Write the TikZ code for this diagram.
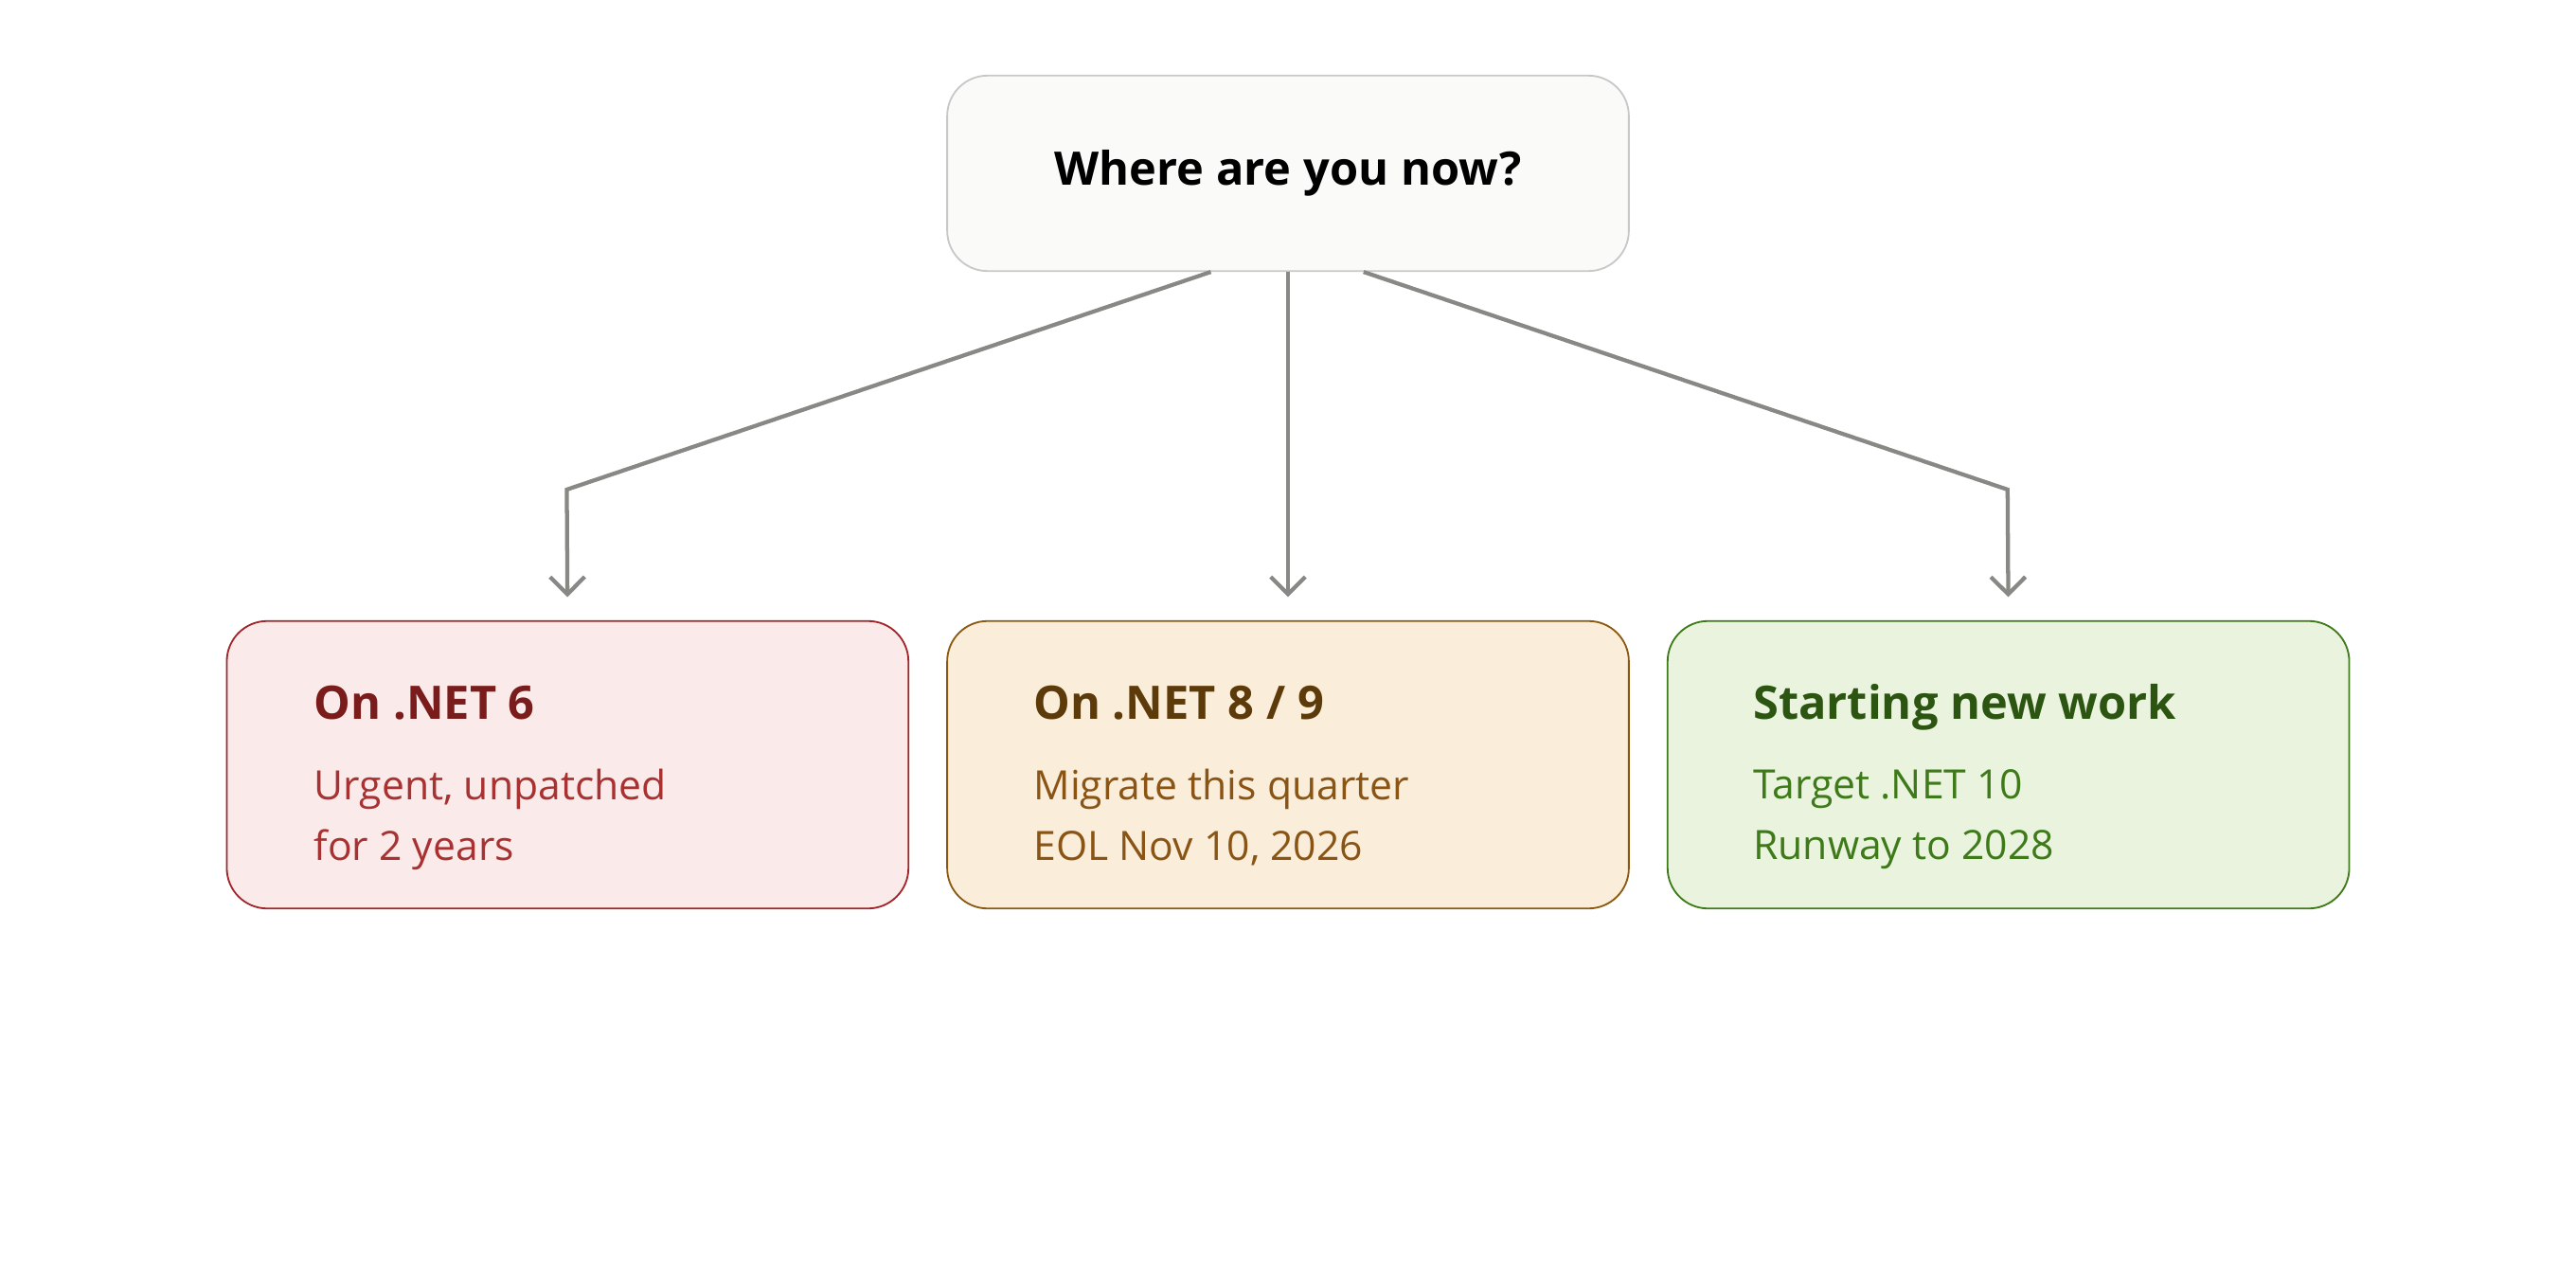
\documentclass[tikz,border=0pt]{standalone}
\usepackage{fontspec}
\setmainfont{Open Sans}
\usetikzlibrary{arrows.meta,positioning}
\definecolor{topfill}{HTML}{FAFAF8}
\definecolor{topline}{HTML}{C8C8C8}
\definecolor{redfill}{HTML}{FBEAEA}
\definecolor{redline}{HTML}{A0262B}
\definecolor{redhead}{HTML}{7A1C1C}
\definecolor{redtext}{HTML}{A83232}
\definecolor{orafill}{HTML}{FAEDDA}
\definecolor{oraline}{HTML}{8B5A12}
\definecolor{orahead}{HTML}{5C3A0A}
\definecolor{oratext}{HTML}{8A5414}
\definecolor{grnfill}{HTML}{EAF3DE}
\definecolor{grnline}{HTML}{3F7A1A}
\definecolor{grnhead}{HTML}{2C5511}
\definecolor{grntext}{HTML}{3F7A1A}
\definecolor{arrgray}{HTML}{888884}
\tikzset{
  box/.style={draw, rounded corners=14pt, line width=0.6pt, minimum width=8.3cm, minimum height=3.5cm, inner sep=0pt},
  head/.style={anchor=base west, font=\fontsize{16}{19}\selectfont\bfseries},
  body/.style={anchor=base west, align=left, font=\fontsize{14}{21}\selectfont},
  arr/.style={draw=arrgray, line width=1.4pt, -{Straight Barb[length=6pt,width=12pt]}, shorten >=8pt}
}
\begin{document}
\begin{tikzpicture}[x=0.02cm,y=-0.02cm]
  \useasboundingbox (0,0) rectangle (1568,784);
  % question
  \node[box, fill=topfill, draw=topline, minimum height=2.38cm] (top) at (784,105.5) {};
  \node[font=\fontsize{16}{19}\selectfont\bfseries] (q) at (top.center) {Where are you now?};
  % answers
  \node[box, fill=redfill, draw=redline] (red) at (345.5,465.5) {};
  \node[box, fill=orafill, draw=oraline] (ora) at (784,465.5) {};
  \node[box, fill=grnfill, draw=grnline] (grn) at (1222.5,465.5) {};
  \node[head, text=redhead] (redh) at (185,438) {On .NET 6};
  \node[body, text=redtext, anchor=north west] (redb) at (185,462) {Urgent, unpatched\\for 2 years};
  \node[head, text=orahead] (orah) at (623,438) {On .NET 8 / 9};
  \node[body, text=oratext, anchor=north west] (orab) at (623,462) {Migrate this quarter\\EOL Nov 10, 2026};
  \node[head, text=grnhead] (grnh) at (1061,438) {Starting new work};
  \node[body, text=grntext, anchor=north west] (grnb) at (1061,462) {Target .NET 10\\Runway to 2028};
  % connectors
  \coordinate (kl) at (345,298);
  \coordinate (kr) at (1222,298);
  \draw[arr] ([xshift=-0.94cm]top.south) -- (kl) -- (red.north);
  \draw[arr] (top.south) -- (ora.north);
  \draw[arr] ([xshift=0.92cm]top.south) -- (kr) -- (grn.north);
\end{tikzpicture}
\end{document}
